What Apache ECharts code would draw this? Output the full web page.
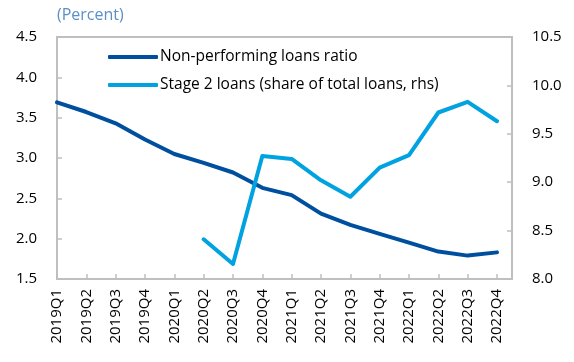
<!DOCTYPE html>
<html>
<head>
<meta charset="utf-8">
<script src="https://cdn.jsdelivr.net/npm/echarts@6/dist/echarts.min.js"></script>
<style>
html,body{margin:0;padding:0;background:#fff;}
#chart{width:574px;height:362px;}
</style>
</head>
<body>
<div id="chart"></div>
<script>
const categories = ['2019Q1','2019Q2','2019Q3','2019Q4','2020Q1','2020Q2','2020Q3','2020Q4','2021Q1','2021Q2','2021Q3','2021Q4','2022Q1','2022Q2','2022Q3','2022Q4'];
const nplRatio = [3.69,3.57,3.43,3.23,3.05,2.94,2.82,2.63,2.54,2.31,2.17,2.06,1.95,1.84,1.79,1.83];
const stage2Share = [null,null,null,null,null,8.41,8.155,9.27,9.24,9.02,8.85,9.15,9.28,9.72,9.83,9.63];
const leftTicks = {min:1.5,max:4.5,interval:0.5};
const rightTicks = {min:8.0,max:10.5,interval:0.5};

const FONT = 'Open Sans';
const chart = echarts.init(document.getElementById('chart'));
chart.setOption({
  animation:false,
  textStyle:{fontFamily:FONT},
  graphic:[
    {type:'text',left:57,top:7,style:{text:'(Percent)',fill:'#5b8fc9',font:'16px "Open Sans"'}},
    {type:'rect',z:-1,shape:{x:57,y:37,width:455,height:242},style:{fill:'none',stroke:'#bfbfbf',lineWidth:2}}
  ],
  grid:{left:57,top:37,right:77,bottom:83,containLabel:false},
  legend:{
    orient:'vertical',left:103,top:44,itemWidth:50,itemHeight:4,itemGap:12,icon:'roundRect',
    textStyle:{fontFamily:FONT,fontSize:15.5,color:'#000',padding:[0,0,0,-3]},
    data:['Non-performing loans ratio','Stage 2 loans (share of total loans, rhs)']
  },
  xAxis:{
    type:'category',data:categories,boundaryGap:false,
    axisLine:{show:false},
    axisTick:{show:true,inside:true,length:5,interval:0,lineStyle:{color:'#bfbfbf',width:1.5}},
    axisLabel:{rotate:90,interval:0,margin:10,fontSize:15,color:'#000',fontFamily:FONT},
    splitLine:{show:false}
  },
  yAxis:[
    {type:'value',min:leftTicks.min,max:leftTicks.max,interval:leftTicks.interval,
     axisLine:{show:false},
     axisTick:{show:true,inside:true,length:5,lineStyle:{color:'#bfbfbf',width:1.5}},
     axisLabel:{margin:20,fontSize:15,color:'#000',fontFamily:FONT,formatter:v=>v.toFixed(1)},
     splitLine:{show:false}},
    {type:'value',position:'right',offset:15,min:rightTicks.min,max:rightTicks.max,interval:rightTicks.interval,
     axisLine:{show:false},
     axisTick:{show:true,inside:true,length:5,lineStyle:{color:'#bfbfbf',width:1.5}},
     axisLabel:{margin:20,fontSize:15,color:'#000',fontFamily:FONT,formatter:v=>v.toFixed(1)},
     splitLine:{show:false}}
  ],
  series:[
    {name:'Non-performing loans ratio',type:'line',yAxisIndex:0,data:nplRatio,symbol:'none',
     lineStyle:{color:'#004f9f',width:4,cap:'round',join:'round'},itemStyle:{color:'#004f9f'}},
    {name:'Stage 2 loans (share of total loans, rhs)',type:'line',yAxisIndex:1,data:stage2Share,symbol:'none',connectNulls:false,
     lineStyle:{color:'#00a2e0',width:4,cap:'round',join:'round'},itemStyle:{color:'#00a2e0'}}
  ]
});
</script>
</body>
</html>
